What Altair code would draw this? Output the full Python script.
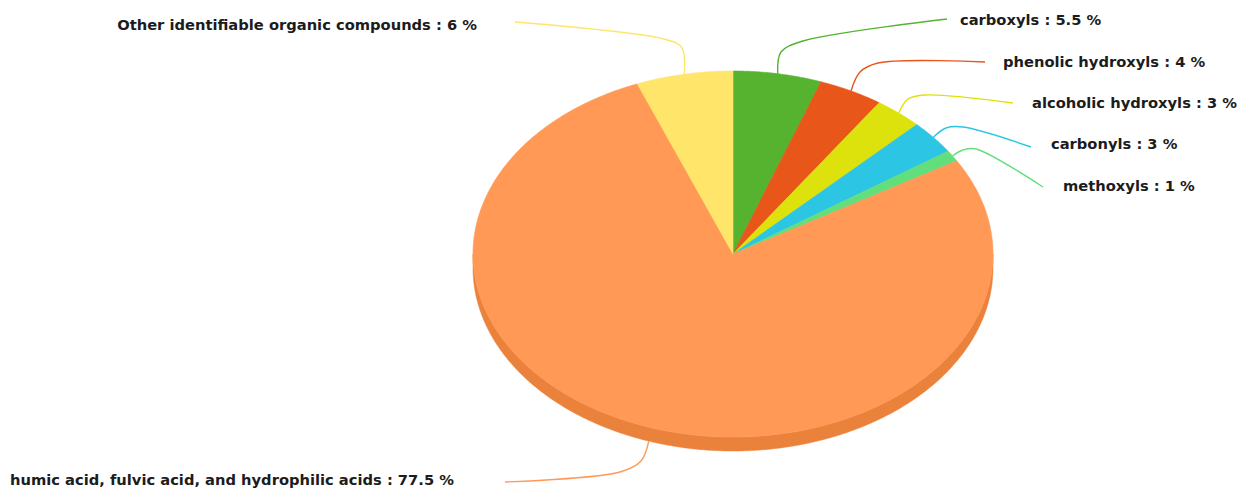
import math
import altair as alt

# Composition of dissolved organic matter (share of total, %)
names = [
    "carboxyls",
    "phenolic hydroxyls",
    "alcoholic hydroxyls",
    "carbonyls",
    "methoxyls",
    "humic acid, fulvic acid, and hydrophilic acids",
    "Other identifiable organic compounds",
]
shares = [5.5, 4, 3, 3, 1, 77.5, 6]

slice_colors = ["#56B330", "#E8561A", "#DEE20C", "#2CC5E3", "#62DF7C", "#FF9955", "#FFE66A"]
leader_colors = ["#63B04A", "#E0552C", "#DCDF45", "#3FA9D6", "#5CC99A", "#F7AE6E", "#FBEA9A"]
side_color = "#EB823C"

# Pie geometry (pixels): centre, radii of the tilted top face, rim depth
CX, CY, RX, RY, DEPTH = 733, 254, 260, 183, 14

# Label anchors and leader-line bends (pixels), one entry per slice
label_pos = [(960, 21), (1003, 63), (1032, 104), (1051, 145), (1063, 187), (10, 481), (477, 26)]
label_align = ["left", "left", "left", "left", "left", "left", "right"]
leader_bends = [
    [(781, 52), (803, 41), (947, 19)],
    [(860, 72), (878, 63), (985, 62)],
    [(908, 99), (925, 95), (1013, 103)],
    [(946, 128), (963, 127), (1031, 147)],
    [(963, 150), (976, 149), (1043, 187)],
    [(641, 461), (620, 472), (505, 482)],
    [(682, 48), (664, 39), (515, 22)],
]


def rim_point(deg, drop=0.0):
    a = math.radians(deg)
    return [CX + RX * math.sin(a), CY - RY * math.cos(a) + drop]


def arc_points(a0, a1, drop=0.0, step=0.5):
    n = max(2, int(abs(a1 - a0) / step) + 1)
    return [rim_point(a0 + (a1 - a0) * i / (n - 1), drop) for i in range(n)]


# Slices: clockwise from 12 o'clock
features = []
mids = []
start = 0.0
for name, share in zip(names, shares):
    a0, a1 = start * 3.6, (start + share) * 3.6
    ring = [[CX, CY]] + arc_points(a0, a1) + [[CX, CY]]
    features.append({
        "type": "Feature",
        "properties": {"name": name},
        "geometry": {"type": "Polygon", "coordinates": [ring]},
    })
    mids.append((a0 + a1) / 2)
    start += share

# Visible side wall of the disc (front half)
front = arc_points(90, 270)
side_ring = front + [p for p in reversed(arc_points(90, 270, DEPTH))] + [front[0]]
side_feature = [{
    "type": "Feature",
    "properties": {"name": "side"},
    "geometry": {"type": "Polygon", "coordinates": [side_ring]},
}]

# Leader lines from each slice rim to its label
leader_rows = []
for name, mid, bends in zip(names, mids, leader_bends):
    drop = DEPTH if math.cos(math.radians(mid)) < 0 else 0
    pts = [rim_point(mid, drop)] + [list(b) for b in bends]
    for i, (x, y) in enumerate(pts):
        leader_rows.append({"name": name, "i": i, "x": x, "y": y})

label_rows = [
    {"text": f"{n} : {s:g} %", "x": p[0], "y": p[1], "align": al}
    for n, s, p, al in zip(names, shares, label_pos, label_align)
]

proj = dict(type="identity", scale=1, translate=[0, 0])

side = alt.Chart(alt.Data(values=side_feature)).mark_geoshape(
    fill=side_color, stroke=side_color, strokeWidth=0.5
).project(**proj)

slices = alt.Chart(alt.Data(values=features)).mark_geoshape(strokeWidth=0.6).encode(
    fill=alt.Fill("properties.name:N", scale=alt.Scale(domain=names, range=slice_colors), legend=None),
    stroke=alt.Stroke("properties.name:N", scale=alt.Scale(domain=names, range=slice_colors), legend=None),
).project(**proj)

leaders = alt.Chart(alt.Data(values=leader_rows)).mark_line(
    interpolate="catmull-rom", strokeWidth=1.4
).encode(
    longitude="x:Q",
    latitude="y:Q",
    detail="name:N",
    order="i:Q",
    stroke=alt.Stroke("name:N", scale=alt.Scale(domain=names, range=leader_colors), legend=None),
).project(**proj)

text_style = dict(font="DejaVu Sans", fontSize=14.7, fontWeight="bold", color="#1c1c1c", baseline="middle")

labels_left = alt.Chart(alt.Data(values=[r for r in label_rows if r["align"] == "left"])).mark_text(
    align="left", **text_style
).encode(longitude="x:Q", latitude="y:Q", text="text:N").project(**proj)

labels_right = alt.Chart(alt.Data(values=[r for r in label_rows if r["align"] == "right"])).mark_text(
    align="right", **text_style
).encode(longitude="x:Q", latitude="y:Q", text="text:N").project(**proj)

chart = alt.layer(side, slices, leaders, labels_left, labels_right).properties(
    width=1237, height=490, padding=0, autosize="none", background="white"
).configure_view(stroke=None)

chart.save("out.html", embed_options={"renderer": "svg", "actions": False})
